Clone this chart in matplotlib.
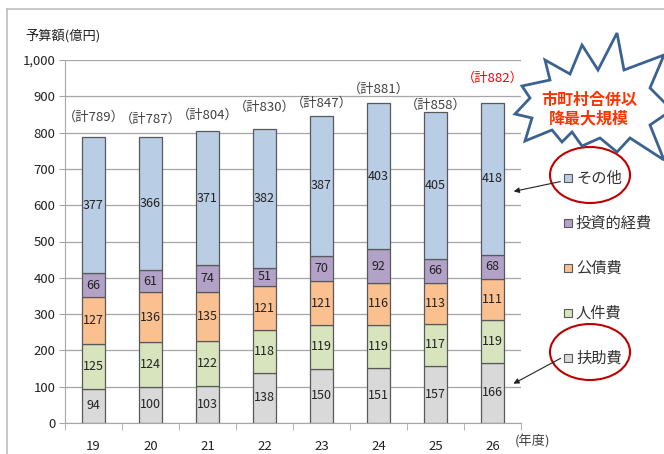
import matplotlib
matplotlib.use("Agg")
import matplotlib.pyplot as plt
import numpy as np
from matplotlib.patches import Polygon, Ellipse, Rectangle
from matplotlib.lines import Line2D

plt.rcParams['font.family'] = ['Noto Sans CJK JP', 'DejaVu Sans']

years = ['19', '20', '21', '22', '23', '24', '25', '26']
series_names = ['扶助費', '人件費', '公債費', '投資的経費', 'その他']
fuzyo = [94, 100, 103, 138, 150, 151, 157, 166]
jinken = [125, 124, 122, 118, 119, 119, 117, 119]
kousai = [127, 136, 135, 121, 121, 116, 113, 111]
toushi = [66, 61, 74, 51, 70, 92, 66, 68]
sonota = [377, 366, 371, 382, 387, 403, 405, 418]
totals = [789, 787, 804, 830, 847, 881, 858, 882]
yticks = [0, 100, 200, 300, 400, 500, 600, 700, 800, 900, 1000]
ytick_labels = ['0', '100', '200', '300', '400', '500', '600', '700', '800', '900', '1,000']

series = [fuzyo, jinken, kousai, toushi, sonota]
colors = ['#D9D9D9', '#D7E4BD', '#FAC090', '#B3A2C7', '#B9CDE5']

W, H = 664, 454
fig = plt.figure(figsize=(W / 100, H / 100), dpi=100)

def fx(px):
    return px / W

def fy(py):
    return 1 - py / H

ax = fig.add_axes([fx(65), fy(423), fx(521) - fx(65), fy(60) - fy(423)])
x = np.arange(len(years))
bottom = np.zeros(len(years))
for vals, c in zip(series, colors):
    ax.bar(x, vals, width=0.4, bottom=bottom, color=c, edgecolor='#595959',
           linewidth=0.9, zorder=3)
    for xi, b, v in zip(x, bottom, vals):
        ax.text(xi, b + v / 2, str(v), ha='center', va='center', fontsize=9,
                color='#222222', zorder=4)
    bottom += np.array(vals)

# total labels (positions in data units)
label_y = [843, 837, 848, 870, 881, 920, 876, 950]
for i, (t, ly) in enumerate(zip(totals, label_y)):
    col = '#FF0000' if i == len(totals) - 1 else '#404040'
    ax.text(i, ly, f'（計{t}）', ha='center', va='center', fontsize=9.5,
            color=col, zorder=5)

ax.set_xlim(-0.5, len(years) - 0.5)
ax.set_ylim(0, 1000)
ax.set_yticks(yticks)
ax.set_yticklabels(ytick_labels, fontsize=9.5, color='#222222')
ax.yaxis.grid(True, color='#A6A6A6', linewidth=0.9, zorder=0)
ax.set_axisbelow(True)
ax.set_xticks(x)
ax.set_xticklabels(years, fontsize=9.5, color='#222222')
ax.tick_params(axis='x', length=0, pad=12)
ax.set_xticks(np.arange(-0.5, len(years), 1), minor=True)
ax.tick_params(axis='x', which='minor', length=5, color='#A6A6A6')
ax.tick_params(axis='y', length=4, color='#A6A6A6', pad=3)
for s in ['top', 'right']:
    ax.spines[s].set_visible(False)
ax.spines['left'].set_color('#A6A6A6')
ax.spines['bottom'].set_color('#A6A6A6')

fig.text(fx(25), fy(36), '予算額(億円)', fontsize=9.5, color='#222222', va='center', ha='left')
fig.text(fx(515), fy(441), '(年度)', fontsize=9.5, color='#404040', va='center', ha='left')

# outer frame
fig.add_artist(Line2D([fx(7), fx(7)], [fy(9), 0], transform=fig.transFigure, color='#BFBFBF', lw=1.2))
fig.add_artist(Line2D([fx(7), 1], [fy(9), fy(9)], transform=fig.transFigure, color='#BFBFBF', lw=1.2))

# legend
leg_y = [178, 223, 268, 313, 358]
leg_names = ['その他', '投資的経費', '公債費', '人件費', '扶助費']
leg_cols = ['#B9CDE5', '#B3A2C7', '#FAC090', '#D7E4BD', '#D9D9D9']
for ly, nm, c in zip(leg_y, leg_names, leg_cols):
    fig.add_artist(Rectangle((fx(564), fy(ly + 4)), fx(8), fy(0) - fy(8),
                             transform=fig.transFigure, facecolor=c, edgecolor='#595959', lw=0.8))
    fig.text(fx(576), fy(ly), nm, fontsize=11, color='#333333', va='center', ha='left')

# ellipses
for cy in [175, 352]:
    fig.add_artist(Ellipse((fx(590), fy(cy)), fx(80), fy(0) - fy(56), transform=fig.transFigure,
                           fill=False, edgecolor='#C00000', lw=1.5))

# arrows
fig.add_artist(matplotlib.patches.FancyArrowPatch((fx(563), fy(181)), (fx(511), fy(192)),
               transform=fig.transFigure, arrowstyle='-|>', mutation_scale=8, color='#222222', lw=0.8))
fig.add_artist(matplotlib.patches.FancyArrowPatch((fx(563), fy(357)), (fx(511), fy(385)),
               transform=fig.transFigure, arrowstyle='-|>', mutation_scale=8, color='#222222', lw=0.8))

# starburst
star_px = [(617, 33), (624, 70), (664, 55), (650, 88), (672, 110), (650, 125), (664, 160),
           (630, 138), (617, 152), (600, 138), (582, 146), (572, 132), (562, 142), (552, 130),
           (525, 141), (532, 118), (515, 114), (530, 98), (522, 86), (550, 80), (545, 60),
           (570, 74), (582, 45), (598, 70)]
star = Polygon([(fx(a), fy(b)) for a, b in star_px], closed=True, transform=fig.transFigure,
               facecolor='white', edgecolor='#3B6391', lw=2.0)
fig.add_artist(star)
fig.text(fx(589), fy(100), '市町村合併以', fontsize=11.5, fontweight='bold', color='#FF3300',
         ha='center', va='center')
fig.text(fx(589), fy(118), '降最大規模', fontsize=11.5, fontweight='bold', color='#FF3300',
         ha='center', va='center')

fig.savefig('out.png', dpi=100)
